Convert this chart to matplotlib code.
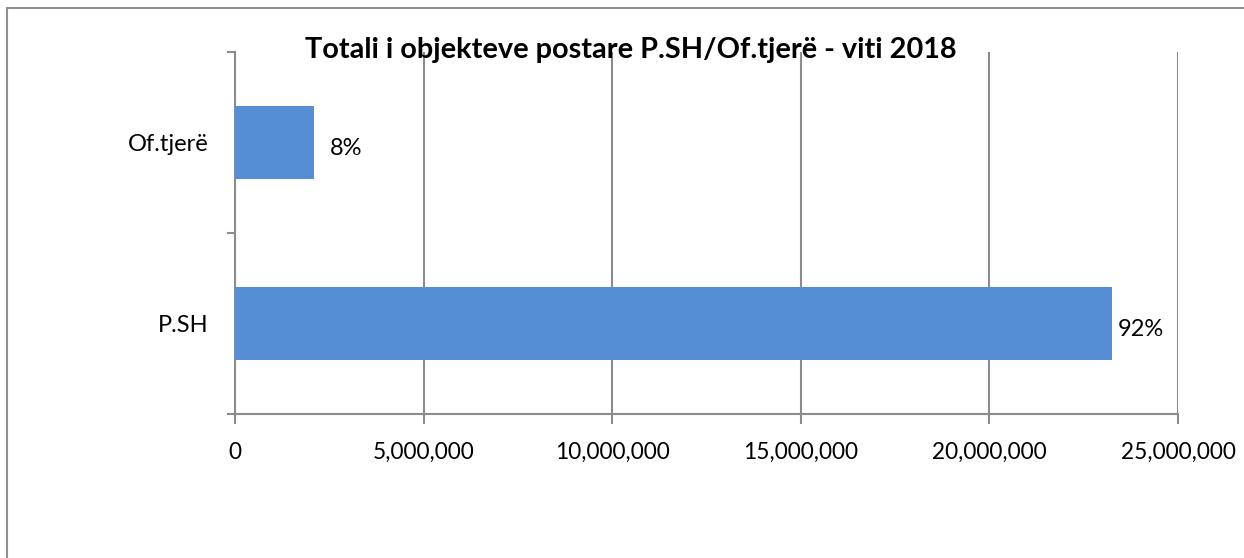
import matplotlib.pyplot as plt
from matplotlib.patches import Rectangle
from matplotlib.ticker import FuncFormatter, FixedLocator

# data
categories = ["P.SH", "Of.tjerë"]
values = [23250000, 2100000]
pct_labels = ["92%", "8%"]
label_pads = [4, 11]
title = "Totali i objekteve postare P.SH/Of.tjerë - viti 2018"

plt.rcParams["font.family"] = ["Lato", "DejaVu Sans"]
grey = "#8c8c8c"
bar_color = "#558ed5"

fig = plt.figure(figsize=(12.44, 5.58), dpi=100)
ax = fig.add_axes([235 / 1244, 144 / 558, 943 / 1244, 362 / 558])

ypos = list(range(len(categories)))
bars = ax.barh(ypos, values, height=0.4, color=bar_color, zorder=3)

for b, lab, pad in zip(bars, pct_labels, label_pads):
    ax.annotate(lab, (b.get_width(), b.get_y() + b.get_height() / 2),
                xytext=(pad, -4), textcoords="offset points",
                va="center", ha="left", fontsize=17, color="black")

ax.set_xlim(0, 25000000)
ax.set_ylim(-0.5, len(categories) - 0.5)
ax.set_xticks(range(0, 25000001, 5000000))
ax.xaxis.set_major_formatter(FuncFormatter(lambda v, p: f"{int(v):,}"))
ax.set_yticks(ypos)
ax.set_yticklabels(categories)
ax.yaxis.set_minor_locator(FixedLocator([-0.5, 0.5, 1.5]))

ax.grid(axis="x", color=grey, linewidth=1.5, zorder=0)
for s in ["top", "right"]:
    ax.spines[s].set_visible(False)
for s in ["left", "bottom"]:
    ax.spines[s].set_color(grey)
    ax.spines[s].set_linewidth(1.5)

ax.tick_params(axis="x", length=7, width=1.5, color=grey, pad=13, labelsize=16.3)
ax.tick_params(axis="y", which="major", length=0, pad=19, labelsize=17)
ax.tick_params(axis="y", which="minor", length=6, width=1.5, color=grey)

fig.text(631 / 1244, (558 - 58) / 558, title, ha="center", va="baseline",
         fontsize=20.8, fontweight="bold")

# outer frame of the embedded chart
fig.patches.append(Rectangle((7 / 1244, -0.1), 1.2, 550 / 558 + 0.1,
                             transform=fig.transFigure, fill=False,
                             edgecolor="#909090", linewidth=1.5))

fig.savefig("out.png", dpi=100)
